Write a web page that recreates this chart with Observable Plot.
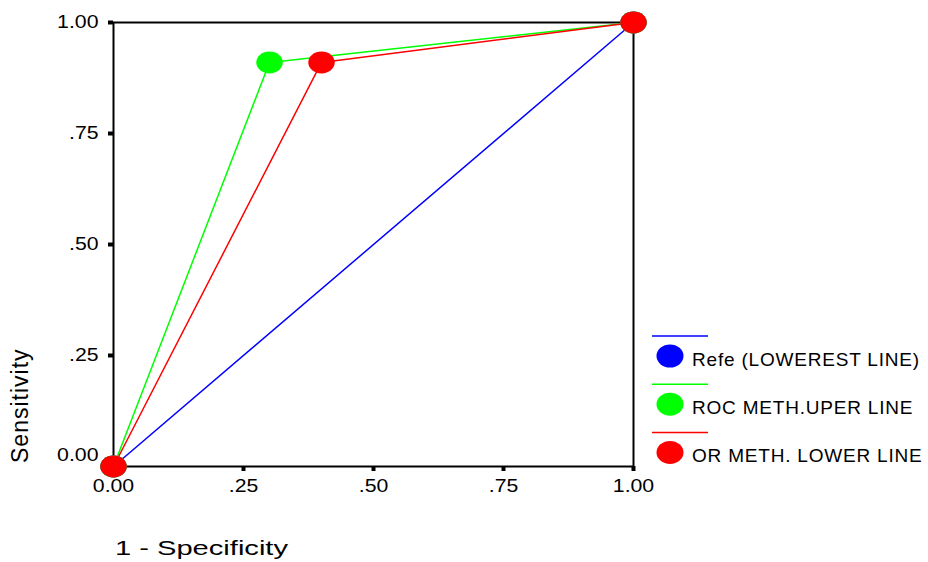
<!DOCTYPE html>
<html><head><meta charset="utf-8">
<script src="https://cdn.jsdelivr.net/npm/d3@7"></script>
<script src="https://cdn.jsdelivr.net/npm/@observablehq/plot@0.6"></script>
<style>
body{margin:0;background:#fff;}
#wrap{width:928px;height:562px;}
</style></head><body><div id="wrap"></div>
<script>
// ---- data ----
const seriesNames = ["Refe (LOWEREST LINE)", "ROC METH.UPER LINE", "OR METH. LOWER LINE"];
const seriesColors = ["#0000ff", "#00ff00", "#ff0000"];
const refX = [0, 1];
const refY = [0, 1];
const rocX = [0, 0.30, 1];
const rocY = [0, 0.91, 1];
const orX = [0, 0.40, 1];
const orY = [0, 0.91, 1];
const tickValues = [0, 0.25, 0.5, 0.75, 1];
const tickLabels = ["0.00", ".25", ".50", ".75", "1.00"];
const xTitle = "1 - Specificity";
const yTitle = "Sensitivity";

// ---- build table ----
const seriesX = [refX, rocX, orX];
const seriesY = [refY, rocY, orY];
const rows = [];
seriesNames.forEach((s, i) => seriesX[i].forEach((x, j) => rows.push({series: s, x, y: seriesY[i][j]})));
const fmt = d => tickLabels[tickValues.indexOf(d)];

// ellipse symbol
const ellipse = {
  draw(ctx, size) {
    const r = Math.sqrt(size / Math.PI);
    const rx = r * 1.15, ry = r * 0.95, k = 0.5523;
    ctx.moveTo(rx, 0);
    ctx.bezierCurveTo(rx, k * ry, k * rx, ry, 0, ry);
    ctx.bezierCurveTo(-k * rx, ry, -rx, k * ry, -rx, 0);
    ctx.bezierCurveTo(-rx, -k * ry, -k * rx, -ry, 0, -ry);
    ctx.bezierCurveTo(k * rx, -ry, rx, -k * ry, rx, 0);
    ctx.closePath();
  }
};

const plot = Plot.plot({
  width: 928, height: 562,
  marginLeft: 113, marginRight: 295, marginTop: 22, marginBottom: 96,
  style: {background: "white", color: "black", fontFamily: "'Liberation Sans', Arial, sans-serif"},
  x: {domain: [0, 1]},
  y: {domain: [0, 1]},
  color: {domain: seriesNames, range: seriesColors},
  marks: [
    Plot.frame({stroke: "#000", strokeWidth: 2}),
    Plot.axisX({ticks: tickValues, tickFormat: fmt, tickSize: 5, tickPadding: 8, strokeWidth: 4, fontSize: 18, label: null}),
    Plot.axisY({ticks: tickValues.slice(1), tickFormat: fmt, tickSize: 5, tickPadding: 10, strokeWidth: 4, fontSize: 18, label: null}),
    Plot.axisY({ticks: [0], tickFormat: () => "", tickSize: 5, strokeWidth: 4, label: null}),
    Plot.axisY({ticks: [0], tickFormat: fmt, tickSize: 0, tickPadding: 15, fontSize: 18, dy: -11, label: null}),
    Plot.line(rows, {x: "x", y: "y", z: "series", stroke: "series", strokeWidth: 1.5}),
    Plot.dot(rows, {x: "x", y: "y", fill: "series", symbol: ellipse, r: 11.5, stroke: null})
  ]
});
document.getElementById("wrap").appendChild(plot);

// widen tick label glyphs like the original rendering
const svg = d3.select(plot);
svg.selectAll("g[aria-label$='tick label'] text").each(function () {
  const L = this.getComputedTextLength();
  if (L > 0) {
    this.setAttribute("textLength", (L * 1.18).toFixed(1));
    this.setAttribute("lengthAdjust", "spacingAndGlyphs");
  }
});

// ---- titles & legend ----
const ff = "'Liberation Sans', Arial, sans-serif";
svg.append("text").attr("x", 115).attr("y", 555).attr("font-size", 21).attr("font-family", ff)
  .attr("text-anchor", "start").attr("textLength", 173).attr("lengthAdjust", "spacingAndGlyphs")
  .attr("fill", "#000").text(xTitle);
svg.append("text").attr("transform", "translate(28,463) rotate(-90)").attr("font-size", 23).attr("font-family", ff)
  .attr("text-anchor", "start").style("letter-spacing", "1px").attr("fill", "#000").text(yTitle);

const lg = svg.append("g");
seriesNames.forEach((s, i) => {
  const y0 = 336 + 48.2 * i;
  lg.append("line").attr("x1", 652).attr("x2", 708).attr("y1", y0).attr("y2", y0)
    .attr("stroke", seriesColors[i]).attr("stroke-width", 1.5);
  lg.append("ellipse").attr("cx", 670).attr("cy", y0 + 20).attr("rx", 13.5).attr("ry", 11.5).attr("fill", seriesColors[i]);
  lg.append("text").attr("x", 692).attr("y", y0 + 30).attr("font-size", 19).attr("font-family", ff)
    .attr("text-anchor", "start").style("letter-spacing", "0.8px").attr("fill", "#000").text(s);
});
</script></body></html>
